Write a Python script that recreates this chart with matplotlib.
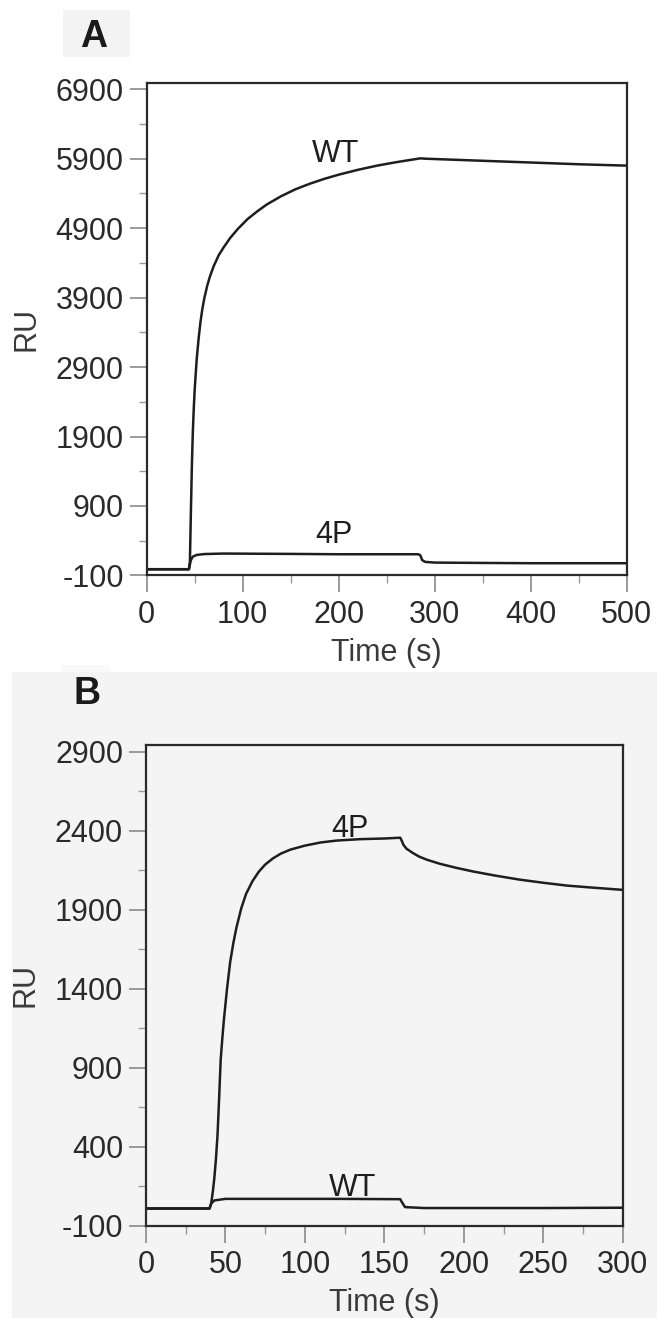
import matplotlib.pyplot as plt
from matplotlib.patches import Rectangle
from matplotlib.ticker import MultipleLocator

plt.rcParams['font.family'] = ['Liberation Sans', 'DejaVu Sans']
plt.rcParams['axes.unicode_minus'] = False

# panel A: WT vs 4P, 0-500 s
a_wt_t = [0, 44, 45, 46, 47, 48, 49, 50, 52, 54, 56, 58, 60, 63, 66, 70, 75, 80, 87, 95, 105, 115, 125,
          140, 155, 170, 185, 200, 220, 240, 260, 285, 290, 350, 400, 450, 500]
a_wt_ru = [-10, -10, 100, 800, 1450, 1950, 2300, 2580, 3000, 3300, 3550, 3740, 3890, 4070, 4210, 4360,
           4510, 4620, 4760, 4890, 5030, 5140, 5240, 5360, 5460, 5540, 5610, 5670, 5740, 5800, 5850,
           5905, 5900, 5870, 5845, 5820, 5800]
a_4p_t = [0, 44, 45, 46, 48, 52, 60, 80, 150, 200, 283, 285, 287, 290, 300, 350, 400, 500]
a_4p_ru = [-12, -12, 60, 120, 170, 195, 208, 215, 210, 205, 205, 190, 120, 95, 85, 80, 76, 76]

# panel B: 4P vs WT, 0-300 s
b_4p_t = [0, 40, 41, 42, 43, 44, 45, 46, 47, 48, 49, 50, 51, 53, 55, 57, 60, 63, 67, 71, 75, 80, 85, 91,
          100, 110, 120, 135, 150, 160, 161, 162, 164, 168, 172, 177, 185, 195, 206, 220, 235, 250, 265,
          280, 300]
b_4p_ru = [8, 8, 40, 110, 200, 320, 470, 700, 950, 1080, 1200, 1300, 1400, 1570, 1690, 1790, 1910, 2000,
           2080, 2140, 2185, 2225, 2255, 2280, 2305, 2325, 2337, 2346, 2350, 2355, 2335, 2310, 2285,
           2258, 2235, 2215, 2190, 2165, 2141, 2115, 2090, 2070, 2052, 2040, 2025]
b_wt_t = [0, 40, 41, 43, 50, 120, 160, 161, 163, 175, 250, 300]
b_wt_ru = [10, 10, 40, 60, 70, 70, 68, 50, 18, 12, 12, 14]

fig = plt.figure(figsize=(6.57, 13.18), dpi=100)

# grey backgrounds for the panel tags
fig.patches.append(Rectangle((63 / 657, 1 - 57 / 1318), 67 / 657, 47 / 1318, transform=fig.transFigure,
                             fc='#f3f3f3', ec='none', zorder=-5))
fig.patches.append(Rectangle((12 / 657, 0), 645 / 657, 1 - 672 / 1318, transform=fig.transFigure,
                             fc='#f4f4f4', ec='none', zorder=-5))
fig.patches.append(Rectangle((61 / 657, 1 - 672 / 1318), 49 / 657, 7 / 1318, transform=fig.transFigure,
                             fc='#f9f9f9', ec='none', zorder=-5))

ax1 = fig.add_axes([0.2233, 0.5634, 0.7306, 0.3739])
ax2 = fig.add_axes([0.2222, 0.0700, 0.7256, 0.3648])

FS = 22


def style(ax, xmax, xmaj, xmin, ytop, ymaj, ymin, face):
    ax.set_facecolor(face)
    ax.set_xlim(0, xmax)
    ax.set_ylim(-100, ytop)
    ax.xaxis.set_major_locator(MultipleLocator(xmaj))
    ax.xaxis.set_minor_locator(MultipleLocator(xmin))
    ax.set_yticks(list(range(-100, int(ytop), ymaj)))
    ax.set_yticks(list(range(-100 + ymin, int(ytop), ymaj)), minor=True)
    for s in ax.spines.values():
        s.set_linewidth(1.6)
        s.set_color('#2a2a2a')
    ax.tick_params(which='major', length=12.5, width=1.1, color='#808080', labelsize=FS,
                   labelcolor='#2a2a2a')
    ax.tick_params(which='minor', length=6, width=1.0, color='#9a9a9a')
    ax.tick_params(axis='x', which='major', pad=5)
    ax.tick_params(axis='y', which='major', pad=4)
    ax.set_xlabel('Time (s)', fontsize=FS, color='#3a3a3a', labelpad=6)
    ax.set_ylabel('RU', fontsize=FS, color='#3a3a3a', labelpad=10)


style(ax1, 500, 100, 50, 6995, 1000, 500, 'white')
style(ax2, 300, 50, 25, 2942, 500, 250, '#f4f4f4')

ax1.plot(a_wt_t, a_wt_ru, color='#1e1e1e', lw=1.8)
ax1.plot(a_4p_t, a_4p_ru, color='#1e1e1e', lw=1.8)
ax1.text(197, 5850, 'WT', fontsize=FS, ha='center', va='baseline', color='#1e1e1e')
ax1.text(195, 368, '4P', fontsize=FS, ha='center', va='baseline', color='#1e1e1e')

ax2.plot(b_4p_t, b_4p_ru, color='#1e1e1e', lw=1.8)
ax2.plot(b_wt_t, b_wt_ru, color='#1e1e1e', lw=1.8)
ax2.text(128, 2362, '4P', fontsize=FS, ha='center', va='baseline', color='#1e1e1e')
ax2.text(130, 90, 'WT', fontsize=FS, ha='center', va='baseline', color='#1e1e1e')

fig.text(94 / 657, 1 - 37 / 1318, 'A', fontsize=27, fontweight='bold', ha='center', va='center',
         color='#1a1a1a')
fig.text(87 / 657, 1 - 694 / 1318, 'B', fontsize=27, fontweight='bold', ha='center', va='center',
         color='#1a1a1a')

fig.savefig('out.png', dpi=100)
